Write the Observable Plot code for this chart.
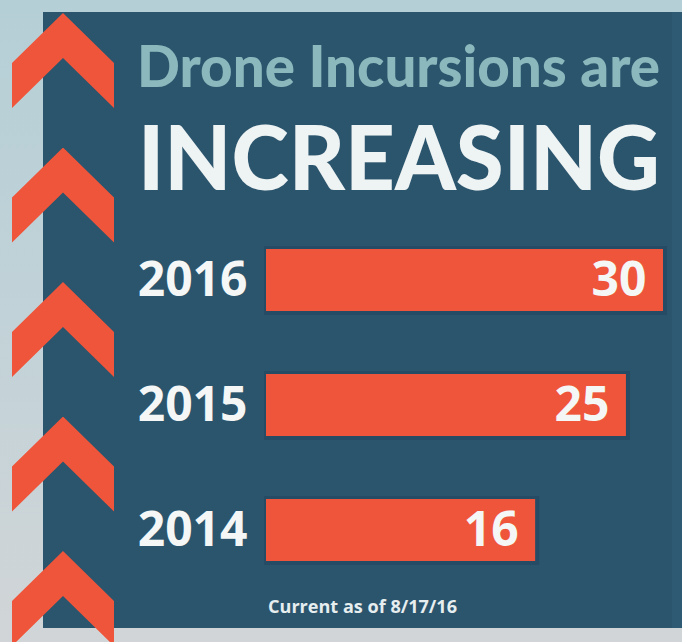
<!DOCTYPE html>
<html>
<head>
<meta charset="utf-8">
<script src="https://cdn.jsdelivr.net/npm/d3@7"></script>
<script src="https://cdn.jsdelivr.net/npm/@observablehq/plot@0.6"></script>
<style>
  html, body { margin: 0; padding: 0; }
  body { width: 682px; height: 642px; overflow: hidden; font-family: "Open Sans", sans-serif; }
  #page { position: relative; width: 682px; height: 642px; overflow: hidden;
    background: linear-gradient(to bottom, #b5cfd6 0%, #c0d2d8 45%, #d1d5d7 100%); }
  #panel { position: absolute; left: 43px; top: 12px; width: 639px; height: 616px; background: #2b546d; }
  #panel::after { content: ""; position: absolute; right: 0; top: 0; width: 10px; height: 100%; background: #2e5a74; }
  .chev { position: absolute; left: 12px; width: 102px; height: 95px; background: #ef553a;
    clip-path: polygon(0 50px, 51px 0, 102px 50px, 102px 95px, 51px 45px, 0 95px); }
  .txt { position: absolute; white-space: nowrap; font-weight: 700; transform-origin: 0 0; }
  #t1 { left: 137px; top: 37px; font-family: Lato, sans-serif; font-weight: 900; font-size: 57px; line-height: 57px; color: #8ab8bc; }
  #t2 { left: 138px; top: 110px; font-family: Lato, sans-serif; font-weight: 900; font-size: 90px; line-height: 90px; color: #eef3f3; }
  #cap { left: 268px; top: 597px; font-size: 18px; line-height: 18px; color: #e6eeef; }
  #chart { position: absolute; left: 0; top: 200px; }
</style>
</head>
<body>
<div id="page">
  <div id="panel"></div>
  <div id="chevrons"></div>
  <div class="txt" id="t1" data-w="523">Drone Incursions are</div>
  <div class="txt" id="t2" data-w="522">INCREASING</div>
  <div class="txt" id="cap" data-w="189">Current as of 8/17/16</div>
  <div id="chart"></div>
</div>
<script>
// ---- data ----
const years = ["2016", "2015", "2014"];
const incursions = [30, 25, 16];
const captionText = "Current as of 8/17/16";

const data = years.map((year, i) => ({year, count: incursions[i]}));

// decorative chevrons on the left strip
const chevTops = [13, 147.5, 282, 416.5, 551];
const chevHost = document.getElementById("chevrons");
for (const t of chevTops) {
  const c = document.createElement("div");
  c.className = "chev";
  c.style.top = t + "px";
  chevHost.appendChild(c);
}

// fit title / caption widths
document.getElementById("cap").textContent = captionText;
for (const el of document.querySelectorAll(".txt")) {
  const target = +el.dataset.w;
  const w = el.getBoundingClientRect().width;
  el.style.transform = `scaleX(${target / w})`;
}

const xBaseline = 4.26;
const white = "#f4f7f6";
const chart = Plot.plot({
  width: 682,
  height: 400,
  style: {background: "transparent", overflow: "visible", fontFamily: "'Open Sans', sans-serif"},
  x: {type: "log", domain: [xBaseline, 30], range: [266, 663], axis: null},
  y: {domain: years, range: [16.25, 392.75], paddingInner: 0.506, paddingOuter: 0.253, axis: null},
  marks: [
    Plot.barX(data, {x1: () => xBaseline, x2: "count", y: "year", fill: "#1f4157", fillOpacity: 0.4,
      insetTop: -3, insetBottom: -4, insetLeft: -2, insetRight: -4}),
    Plot.barX(data, {x1: () => xBaseline, x2: "count", y: "year", fill: "#ef553a"}),
    Plot.text(data, {x: () => xBaseline, y: "year", text: "year", textAnchor: "end", dx: -19,
      fontSize: 48, fontWeight: 700, fill: white}),
    Plot.text(data, {x: "count", y: "year", text: d => String(d.count), textAnchor: "end", dx: -17,
      fontSize: 48, fontWeight: 700, fill: white})
  ]
});
document.getElementById("chart").appendChild(chart);
</script>
</body>
</html>
